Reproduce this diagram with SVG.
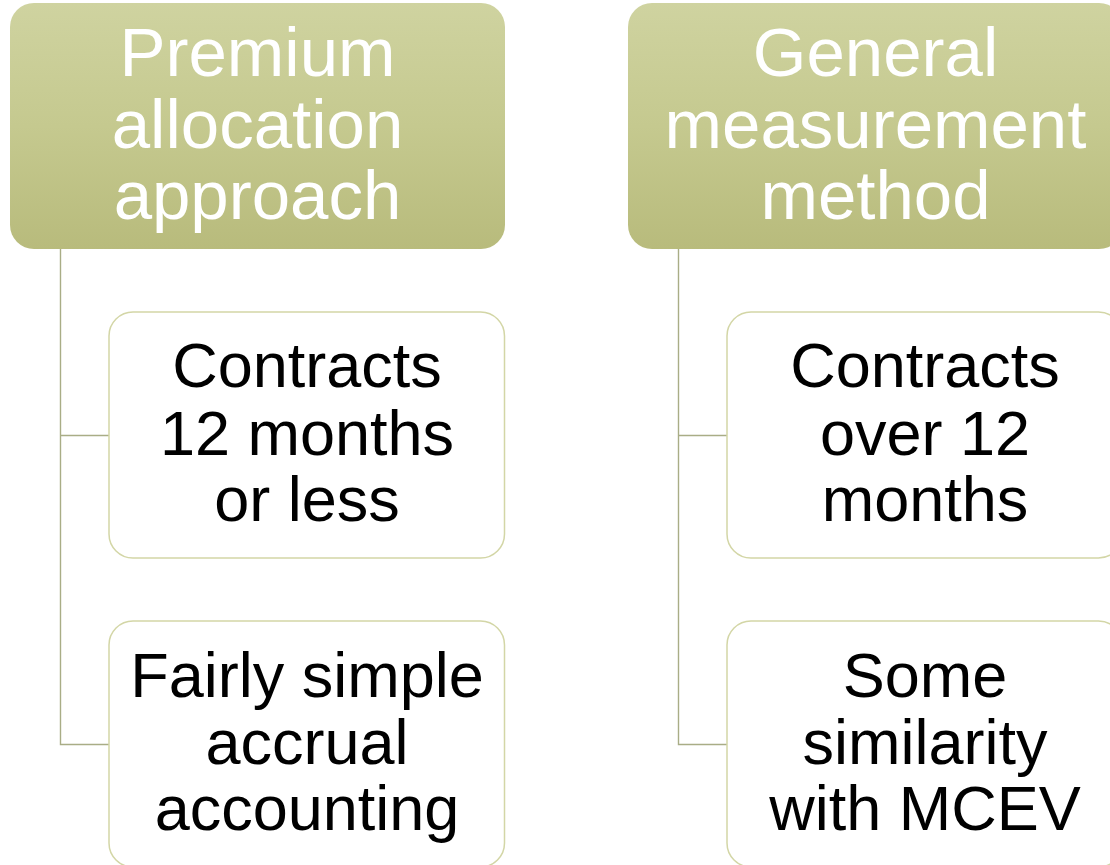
<svg xmlns="http://www.w3.org/2000/svg" width="1110" height="865" viewBox="0 0 1110 865">
  <defs>
    <linearGradient id="headFill" x1="0" y1="0" x2="0" y2="1">
      <stop offset="0" stop-color="#cfd3a0"/>
      <stop offset="0.5" stop-color="#c5c98f"/>
      <stop offset="1" stop-color="#b8bb7c"/>
    </linearGradient>
    <style>
      .head rect { fill: url(#headFill); }
      .head text { fill: #ffffff; font-family: "Liberation Sans", Arial, sans-serif; font-size: 69px; text-anchor: middle; }
      .child rect { fill: #ffffff; stroke: #d3d6a6; stroke-width: 1.5; }
      .child text { fill: #000000; font-family: "Liberation Sans", Arial, sans-serif; font-size: 63px; text-anchor: middle; }
      .conn path { fill: none; stroke: #a9ad86; stroke-width: 1.4; }
    </style>
  </defs>
  <rect width="1110" height="865" fill="#ffffff"/>

  <!-- tree connectors -->
  <g id="connectors" class="conn">
    <path d="M60.5 249 V744.5 H109 M60.5 435.5 H109"/>
    <path d="M678.5 249 V744.5 H727 M678.5 435.5 H727"/>
  </g>

  <!-- left column -->
  <g id="head-paa" class="head">
    <rect x="10" y="3" width="495" height="246" rx="24"/>
    <text x="257.5" y="76">Premium</text>
    <text x="257.5" y="148">allocation</text>
    <text x="257.5" y="219">approach</text>
  </g>
  <g id="paa-term" class="child">
    <rect x="109" y="312" width="395.5" height="246" rx="24"/>
    <text x="307" y="387">Contracts</text>
    <text x="307" y="455">12 months</text>
    <text x="307" y="521">or less</text>
  </g>
  <g id="paa-accrual" class="child">
    <rect x="109" y="621" width="395.5" height="246" rx="24"/>
    <text x="307" y="697">Fairly simple</text>
    <text x="307" y="764">accrual</text>
    <text x="307" y="830">accounting</text>
  </g>

  <!-- right column -->
  <g id="head-gmm" class="head">
    <rect x="628" y="3" width="495" height="246" rx="24"/>
    <text x="875.5" y="76">General</text>
    <text x="875.5" y="148">measurement</text>
    <text x="875.5" y="219">method</text>
  </g>
  <g id="gmm-term" class="child">
    <rect x="727" y="312" width="395.5" height="246" rx="24"/>
    <text x="925" y="387">Contracts</text>
    <text x="925" y="455">over 12</text>
    <text x="925" y="521">months</text>
  </g>
  <g id="gmm-mcev" class="child">
    <rect x="727" y="621" width="395.5" height="246" rx="24"/>
    <text x="925" y="697">Some</text>
    <text x="925" y="764">similarity</text>
    <text x="925" y="830">with MCEV</text>
  </g>
</svg>
